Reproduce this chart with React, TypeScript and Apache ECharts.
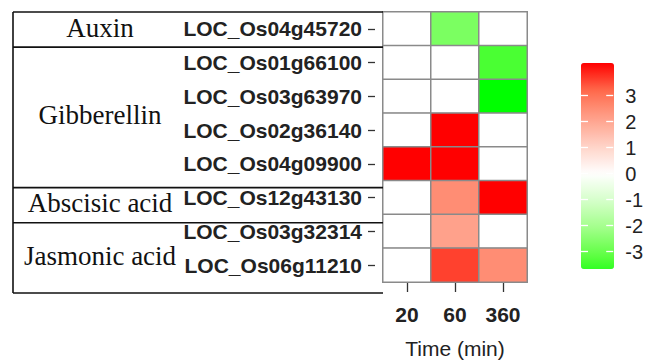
import React, { useEffect, useRef } from 'react';
import * as echarts from 'echarts';

// ---- data ----
const genes = [
  'LOC_Os04g45720',
  'LOC_Os01g66100',
  'LOC_Os03g63970',
  'LOC_Os02g36140',
  'LOC_Os04g09900',
  'LOC_Os12g43130',
  'LOC_Os03g32314',
  'LOC_Os06g11210',
];
const timePoints = ['20', '60', '360'];
const t20 = [0, 0, 0, 0, 4.25, 0, 0, 0];
const t60 = [-2.7, 0, 0, 4.25, 4.25, 2.5, 2.1, 3.6];
const t360 = [0, -3.4, -4.25, 0, 0, 4.25, 0, 2.5];
const groupNames = ['Auxin', 'Gibberellin', 'Abscisic acid', 'Jasmonic acid'];
const groupSizes = [1, 4, 1, 2];
const legendTicks = [-3, -2, -1, 0, 1, 2, 3];
const legendMin = -3.67;
const legendMax = 4.25;
const scaleLimit = 4.25;
const scaleColors = [
  '#00ff00', '#5cff40', '#a0ff88', '#d4ffc8', '#ffffff',
  '#ffd2c6', '#ffa08a', '#ff6a4c', '#ff0000',
];

// ---- layout / style ----
const GRID = { left: 383, top: 12, width: 144, height: 281 };
const BAR = { left: 581, top: 63, width: 33, height: 206 };
const SANS = '"Liberation Sans", Arial, sans-serif';
const SERIF = '"Liberation Serif", "Times New Roman", serif';
const TABLE_LEFT = 13;

function hexToRgb(h: string) {
  const n = parseInt(h.slice(1), 16);
  return [(n >> 16) & 255, (n >> 8) & 255, n & 255];
}
function colorAt(v: number) {
  let t = (v + scaleLimit) / (2 * scaleLimit);
  t = Math.max(0, Math.min(1, t));
  const pos = t * (scaleColors.length - 1);
  const lo = Math.min(Math.floor(pos), scaleColors.length - 2);
  const f = pos - lo;
  const a = hexToRgb(scaleColors[lo]);
  const b = hexToRgb(scaleColors[lo + 1]);
  const c = a.map((x, i) => Math.round(x + (b[i] - x) * f));
  return `rgb(${c[0]},${c[1]},${c[2]})`;
}

export default function App() {
  const ref = useRef<HTMLDivElement>(null);
  useEffect(() => {
    if (!ref.current) return;
    const chart = echarts.init(ref.current, undefined, { renderer: 'svg' });

    const cols = [t20, t60, t360];
    const data: number[][] = [];
    cols.forEach((col, xi) => col.forEach((v, yi) => data.push([xi, yi, v])));

    const N = 41;
    const legendColors: string[] = [];
    for (let i = 0; i < N; i++) {
      legendColors.push(colorAt(legendMin + ((legendMax - legendMin) * i) / (N - 1)));
    }

    const rowH = GRID.height / genes.length;
    const bounds = [0];
    groupSizes.forEach((s) => bounds.push(bounds[bounds.length - 1] + s));
    const graphic: any[] = [];
    bounds.forEach((b) => {
      const y = GRID.top + b * rowH;
      graphic.push({
        type: 'line',
        shape: { x1: TABLE_LEFT, y1: y, x2: GRID.left, y2: y },
        style: { stroke: '#111', lineWidth: 1.6 },
        z: 5,
      });
    });
    graphic.push({
      type: 'line',
      shape: { x1: TABLE_LEFT, y1: GRID.top, x2: TABLE_LEFT, y2: GRID.top + GRID.height },
      style: { stroke: '#111', lineWidth: 1.6 },
      z: 5,
    });
    groupNames.forEach((name, i) => {
      const yc = GRID.top + (bounds[i] + groupSizes[i] / 2) * rowH - 2;
      graphic.push({
        type: 'text',
        x: 100,
        y: yc,
        style: {
          text: name,
          fontFamily: SERIF,
          fontSize: 27,
          fill: '#111',
          align: 'center',
          verticalAlign: 'middle',
        },
        z: 5,
      });
    });

    const tickStyle = { color: '#333', width: 1.3 };
    const legendAxisCommon = {
      type: 'value',
      gridIndex: 1,
      min: legendMin,
      max: legendMax,
      axisLine: { show: false },
      splitLine: { show: false },
      z: 10,
    };

    chart.setOption({
      animation: false,
      backgroundColor: '#ffffff',
      grid: [
        { left: GRID.left, top: GRID.top, width: GRID.width, height: GRID.height },
        { left: BAR.left, top: BAR.top, width: BAR.width, height: BAR.height },
      ],
      xAxis: [
        {
          type: 'category',
          gridIndex: 0,
          data: timePoints,
          position: 'bottom',
          offset: 1,
          axisLine: { show: false },
          axisTick: { show: true, length: 9, alignWithLabel: true, lineStyle: tickStyle },
          axisLabel: { fontFamily: SANS, fontWeight: 'bold', fontSize: 21, color: '#222', margin: 21 },
          splitLine: { show: false },
          name: 'Time (min)',
          nameLocation: 'middle',
          nameGap: 55,
          nameTextStyle: { fontFamily: SANS, fontSize: 21, color: '#222' },
        },
        { type: 'value', gridIndex: 1, show: false, min: 0, max: 1 },
      ],
      yAxis: [
        {
          type: 'category',
          gridIndex: 0,
          data: genes,
          inverse: true,
          offset: 8,
          axisLine: { show: false },
          axisTick: { show: true, length: 7, alignWithLabel: true, lineStyle: tickStyle },
          axisLabel: { fontFamily: SANS, fontWeight: 'bold', fontSize: 21, color: '#222', margin: 13 },
          splitLine: { show: false },
        },
        {
          ...legendAxisCommon,
          position: 'left',
          axisTick: { show: true, inside: true, length: 7, customValues: legendTicks, lineStyle: { color: '#fff', width: 1.3 } },
          axisLabel: { show: false },
        },
        {
          ...legendAxisCommon,
          position: 'right',
          axisTick: { show: true, inside: true, length: 7, customValues: legendTicks, lineStyle: { color: '#fff', width: 1.3 } },
          axisLabel: {
            show: true,
            customValues: legendTicks,
            margin: 12,
            fontFamily: SANS,
            fontSize: 20,
            color: '#222',
            padding: [5, 0, 0, 0],
          },
        },
      ],
      visualMap: [
        {
          type: 'continuous',
          show: false,
          seriesIndex: 0,
          dimension: 2,
          min: -scaleLimit,
          max: scaleLimit,
          inRange: { color: scaleColors },
        },
        {
          type: 'continuous',
          show: true,
          seriesIndex: 1,
          min: legendMin,
          max: legendMax,
          left: BAR.left,
          top: BAR.top,
          itemWidth: BAR.width,
          itemHeight: BAR.height,
          padding: 0,
          calculable: false,
          hoverLink: false,
          inRange: { color: legendColors },
        },
      ],
      series: [
        {
          type: 'heatmap',
          xAxisIndex: 0,
          yAxisIndex: 0,
          data,
          itemStyle: { borderColor: '#8a8a8a', borderWidth: 1.5 },
        },
        {
          type: 'scatter',
          xAxisIndex: 1,
          yAxisIndex: 2,
          data: [],
        },
      ],
      graphic,
    });

    return () => chart.dispose();
  }, []);

  return (
    <div
      ref={ref}
      style={{ position: 'absolute', left: 0, top: 0, width: 646, height: 364, background: '#fff' }}
    />
  );
}
